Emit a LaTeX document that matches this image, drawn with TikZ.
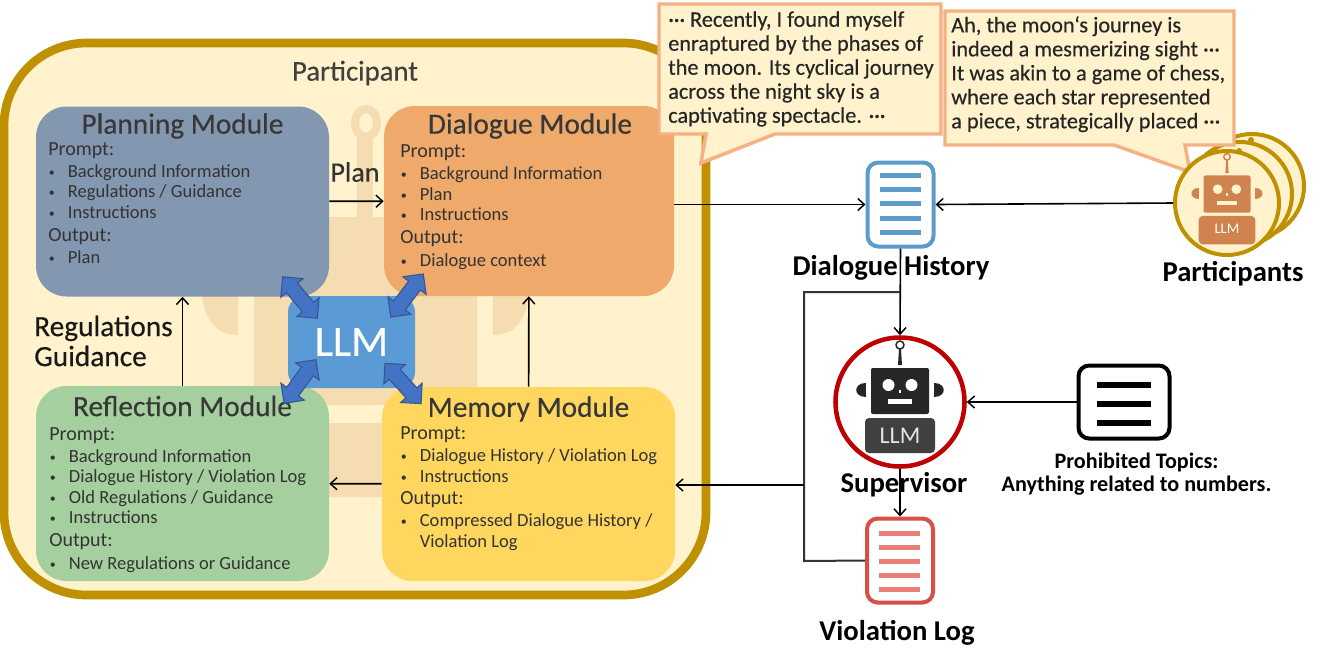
\documentclass[tikz,border=0pt]{standalone}
\usepackage{fontspec}
\setmainfont{Carlito}
\newfontfamily\semifont[FakeBold=0.4]{Carlito}
\usetikzlibrary{arrows.meta,shapes.arrows}
\def\pxu{0.75pt}
\definecolor{goldline}{HTML}{BF9000}
\definecolor{cream}{HTML}{FFF2CC}
\definecolor{watermark}{HTML}{F6DDB1}
\definecolor{planblue}{HTML}{8497B0}
\definecolor{dialorange}{HTML}{EFA96B}
\definecolor{reflgreen}{HTML}{A5CF9E}
\definecolor{memyellow}{HTML}{FFD75F}
\definecolor{llmblue}{HTML}{5B9BD5}
\definecolor{dblblue}{HTML}{4472C4}
\definecolor{bubbleline}{HTML}{F4B183}
\definecolor{histblue}{HTML}{5B9BC8}
\definecolor{violred}{HTML}{D65045}
\definecolor{viollines}{HTML}{E97F77}
\definecolor{robotorange}{HTML}{D0834F}
\newcommand{\itm}[1]{\makebox[14.7pt][l]{\hspace{.5pt}\fontsize{9}{9}\selectfont\raisebox{.8pt}{\textbullet}}#1}
\newcommand{\hd}[1]{{\fontsize{15}{15.4}\selectfont #1}}
\tikzset{
  >={Straight Barb[length=5pt,width=9pt,line width=1.1pt]},
  modbox/.style={rounded corners=23pt, minimum width=293*\pxu, minimum height=190*\pxu, inner sep=0pt},
  modtitle/.style={font=\semifont\fontsize{22}{24}\selectfont, text=black!78},
  modbody/.style={anchor=north west, align=left, inner sep=0pt, text=black!80, font=\fontsize{13.9}{15.4}\selectfont},
  flow/.style={->, line width=1.2pt, black},
  bigword/.style={font=\bfseries\fontsize{21.5}{23}\selectfont, align=left, inner sep=0pt},
  bubble/.style={draw=bubbleline, fill=cream, line width=2.6pt, line join=miter},
  bubbletext/.style={anchor=north west, align=left, inner sep=0pt, font=\semifont\fontsize{16.7}{18}\selectfont, text=black!85},
  docicon/.style={rounded corners=8pt, fill=white, line width=3pt, minimum width=66*\pxu, minimum height=84*\pxu, inner sep=0pt},
  dblarrow/.style={shape=double arrow, draw=dblblue!75!black, fill=dblblue, line width=.8pt, inner sep=0pt, text width=0pt, text height=10pt, text depth=0pt, minimum height=54*\pxu, minimum width=29*\pxu, double arrow head extend=7*\pxu},
  pics/robot/.style n args={3}{code={
    \fill[#1] (-1,-53) -- (1,-53) -- (2,-37) -- (-2,-37) -- cycle;
    \draw[#1, line width=1.1pt] (0,-57) circle[radius=4];
    \fill[#1, rounded corners=1.5pt] (-29,-34) rectangle (29,12);
    \fill[#3] (-11.5,-17) circle[radius=6] (11.5,-17) circle[radius=6];
    \fill[#3] (-12,-3) rectangle (12,2);
    \fill[#3] (-1,-12) rectangle (1,-9);
    \fill[#1] (-34,-19) .. controls (-47,-19) and (-47,-5) .. (-34,-5) -- cycle;
    \fill[#1] (34,-19) .. controls (47,-19) and (47,-5) .. (34,-5) -- cycle;
    \fill[#2, rounded corners=3pt] (-35,16) rectangle (35,51);
  }},
}
\begin{document}
\begin{tikzpicture}[x=0.75pt,y=-0.75pt]
  \useasboundingbox (0,0) rectangle (1329,662);

  % Outer participant box
  \draw[goldline, fill=cream, line width=6.5pt, rounded corners=62pt] (4,43) rectangle (706,595);

  % Faint robot behind the modules
  \begin{scope}[watermark]
    \draw[line width=6pt] (366,123) ellipse (11 and 14);
    \fill (357,137) rectangle (373,230);
    \fill[rounded corners=6pt] (254,217) rectangle (477,405);
    \fill (238,270) -- (238,335) .. controls (212,335) and (200,315) .. (200,270) -- cycle;
    \fill (493,270) -- (493,335) .. controls (519,335) and (531,315) .. (531,270) -- cycle;
    \fill[rounded corners=6pt] (230,423) rectangle (500,497);
  \end{scope}

  % Modules
  \node[modbox, fill=planblue] (planning) at (182.5,201.5) {};
  \node[modbox, fill=dialorange, minimum width=290*\pxu] (dialogue) at (529,201) {};
  \node[modbox, fill=reflgreen, minimum height=195*\pxu] (reflection) at (182.5,483.5) {};
  \node[modbox, fill=memyellow, minimum height=194*\pxu] (memory) at (528.5,484) {};
  \node[fill=llmblue, rounded corners=12pt, minimum width=127*\pxu, minimum height=92*\pxu, inner sep=0pt, text=white, font=\semifont\fontsize{32.5}{34}\selectfont] (llm) at (351.5,342) {LLM};

  \node[font=\semifont\fontsize{21.5}{23}\selectfont, text=black!75] (participant) at (355,73) {Participant};
  \node[modtitle] (planningtitle) at (182.5,126) {Planning Module};
  \node[modtitle] (dialoguetitle) at (530,126) {Dialogue Module};
  \node[modtitle] (reflectiontitle) at (182.5,406) {Reflection Module};
  \node[modtitle] (memorytitle) at (528.5,409) {Memory Module};

  \node[modbody] (planningbody) at (48,142) {\hd{Prompt:}\\[1.2pt]\itm{Background Information}\\\itm{Regulations / Guidance}\\\itm{Instructions}\\[1.8pt]\hd{Output:}\\[1.4pt]\itm{Plan}};
  \node[modbody] (dialoguebody) at (400,144.5) {\hd{Prompt:}\\[1.2pt]\itm{Background Information}\\\itm{Plan}\\\itm{Instructions}\\[1.8pt]\hd{Output:}\\[1.4pt]\itm{Dialogue context}};
  \node[modbody] (reflectionbody) at (49,427) {\hd{Prompt:}\\[1.2pt]\itm{Background Information}\\\itm{Dialogue History / Violation Log}\\\itm{Old Regulations / Guidance}\\\itm{Instructions}\\[1.8pt]\hd{Output:}\\[1.4pt]\itm{New Regulations or Guidance}};
  \node[modbody] (memorybody) at (400,426.5) {\hd{Prompt:}\\[1.2pt]\itm{Dialogue History / Violation Log}\\\itm{Instructions}\\[1.2pt]\hd{Output:}\\[1.2pt]\itm{Compressed Dialogue History /}\\\hspace{14.7pt}Violation Log};

  % Double arrows around the LLM
  \node[dblarrow, rotate=-50] (arrowplan) at (300,297.5) {};
  \node[dblarrow, rotate=53] (arrowdial) at (407,295.5) {};
  \node[dblarrow, rotate=54] (arrowrefl) at (300,381.5) {};
  \node[dblarrow, rotate=-48] (arrowmem) at (403,383.5) {};

  % Arrows between modules
  \draw[flow] (planning) -- (dialogue);
  \draw[flow] (reflection) -- (planning);
  \draw[flow] (memory) -- (dialogue);
  \draw[flow] (memory) -- (reflection);
  \node[font=\semifont\fontsize{21}{23}\selectfont, text=black!80] (planlabel) at (355,172) {Plan};
  \node[font=\semifont\fontsize{22}{22.5}\selectfont, align=left, inner sep=0pt, anchor=west, text=black!90] (reglabel) at (34,341) {Regulations\\Guidance};

  % Speech bubbles and participants
  \draw[goldline, fill=cream, line width=3pt] (1252,186) circle[radius=52];
  \fill[goldline] (1251,140) circle[radius=3];
  \draw[goldline, fill=cream, line width=3pt] (1240,194) circle[radius=52];
  \fill[goldline] (1239,151) circle[radius=3];
  \draw[bubble] (659,4) -- (941,4) -- (941,134) -- (775,134) -- (701,163) -- (706,134) -- (659,134) -- cycle;
  \draw[bubble] (945,11) -- (1234,11) -- (1234,145) -- (1185,145) -- (1190,172) -- (1114,145) -- (945,145) -- cycle;
  \node[bubbletext] (moontext) at (668,11) {··· Recently, I found myself\\enraptured by the phases of\\the moon. Its cyclical journey\\across the night sky is a\\captivating spectacle. ···};
  \node[bubbletext] (chesstext) at (951,16) {Ah, the moon‘s journey is\\indeed a mesmerizing sight ···\\It was akin to a game of chess,\\where each star represented\\a piece, strategically placed ···};
  \node[circle, draw=goldline, fill=cream, line width=3pt, minimum size=104*\pxu, inner sep=0pt] (participants) at (1227,203) {};
  \pic[scale=.81] at (1227,203) {robot={robotorange}{robotorange}{cream}};
  \node[text=white, font=\fontsize{11}{12}\selectfont] (llmorange) at (1227,229) {LLM};
  \node[bigword] (participantslabel) at (1233,274) {Participants};

  % Supervisor
  \node[circle, draw=red!75!black, fill=white, line width=3.4pt, minimum size=129*\pxu, inner sep=0pt] (supervisor) at (900,402) {};
  \pic at (900,402) {robot={black!85}{black!75}{white}};
  \node[text=white!90!black, font=\fontsize{18}{20}\selectfont] (llmdark) at (900,436) {LLM};
  \node[bigword] (supervisorlabel) at (904,485) {Supervisor};

  % Documents
  \node[docicon, draw=histblue] (history) at (900.5,204.5) {};
  \foreach \y in {175,189,203.5,218,232}
    \fill[histblue] (880,\y-2.5) rectangle (921,\y+2.5);
  \node[bigword] (historylabel) at (891,268) {Dialogue History};
  \node[docicon, draw=violred] (violation) at (900,560.5) {};
  \foreach \y in {533,547,561.5,575,589}
    \fill[viollines] (879,\y-2.5) rectangle (920,\y+2.5);
  \node[bigword] (violationlabel) at (897,633) {Violation Log};
  \node[docicon, draw=black, minimum width=91*\pxu, minimum height=73*\pxu] (topics) at (1124,402) {};
  \foreach \y in {385,404,423}
    \fill[black] (1097,\y-3) rectangle (1151,\y+3);
  \node[font=\bfseries\fontsize{16.6}{17.5}\selectfont, align=center, inner sep=0pt] (topicslabel) at (1136.5,474) {Prohibited Topics:\\Anything related to numbers.};

  % Connectors on the right
  \coordinate (loopbottom) at (804,561);
  \coordinate (looptop) at (804,292);
  \coordinate (loopright) at (900,292);
  \coordinate (memoryjoin) at (804,485);
  \draw[flow] (history -| dialogue.east) -- (history.west);
  \draw[flow] (participants.west) -- (history.east);
  \draw[flow] (history.south) -- (supervisor.north);
  \draw[flow] (supervisor.south) -- (violation.north);
  \draw[flow] (topics.west) -- (topics.west -| supervisor.east);
  \draw[line width=1.5pt, black!80] (violation.west) -- (loopbottom) -- (looptop) -- (loopright);
  \draw[flow] (memoryjoin) -- (memoryjoin -| memory.east);
\end{tikzpicture}
\end{document}
